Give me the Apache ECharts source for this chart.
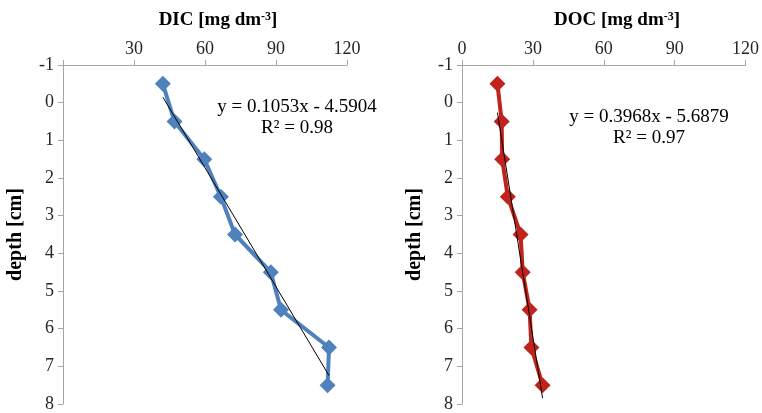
<!DOCTYPE html>
<html>
<head>
<meta charset="utf-8">
<script src="https://cdn.jsdelivr.net/npm/echarts@6/dist/echarts.min.js"></script>
<style>
  html, body { margin: 0; padding: 0; background: #fff; }
  #chart { width: 762px; height: 413px; }
</style>
</head>
<body>
<div id="chart"></div>
<script>
// depth of each sample [cm]
const depths = [-0.5, 0.5, 1.5, 2.5, 3.5, 4.5, 5.5, 6.5, 7.5]
// concentrations [mg dm-3]
const dicValues = [42.2, 47.1, 59.7, 66.7, 72.7, 87.8, 92.1, 112.4, 111.8]
const docValues = [15.0, 16.8, 17.0, 19.4, 24.8, 25.7, 28.6, 29.4, 34.1]
// linear fits shown on the chart: depth = slope * value + intercept
const dicFit = [0.1053, -4.5904]
const docFit = [0.3968, -5.6879]
const dicLabels = ['y = 0.1053x - 4.5904', 'R² = 0.98']
const docLabels = ['y = 0.3968x - 5.6879', 'R² = 0.97']
const xTicks = [0, 30, 60, 90, 120]
const yTicks = [-1, 0, 1, 2, 3, 4, 5, 6, 7, 8]

const FONT = '"Liberation Serif", "Times New Roman", serif'
const AXIS_GREY = '#a6a6a6'

const chart = echarts.init(document.getElementById('chart'))

const points = (vals) => vals.map((v, i) => [v, depths[i]])
const fitLine = (vals, fit) => {
    const lo = Math.min(...vals), hi = Math.max(...vals)
    return [[lo, fit[0] * lo + fit[1]], [hi, fit[0] * hi + fit[1]]]
}

const makeX = (idx, hideZero) => ({
    type: 'value',
    gridIndex: idx,
    position: 'top',
    min: xTicks[0],
    max: xTicks[xTicks.length - 1],
    interval: 30,
    axisLine: { show: true, onZero: false, lineStyle: { color: AXIS_GREY, width: 1 } },
    axisTick: { show: true, inside: false, length: 5, lineStyle: { color: AXIS_GREY } },
    splitLine: { show: false },
    axisLabel: {
        fontFamily: FONT, fontSize: 18, color: '#262626', margin: 7,
        formatter: (v) => (hideZero && v === 0 ? '' : String(v))
    }
})

const makeY = (idx) => ({
    type: 'value',
    gridIndex: idx,
    inverse: true,
    min: yTicks[0],
    max: yTicks[yTicks.length - 1],
    interval: 1,
    name: 'depth [cm]',
    nameLocation: 'middle',
    nameGap: 37,
    nameRotate: 90,
    nameTextStyle: { fontFamily: FONT, fontSize: 20, fontWeight: 'bold', color: '#000' },
    axisLine: { show: true, onZero: false, lineStyle: { color: AXIS_GREY, width: 1 } },
    axisTick: { show: true, inside: false, length: 5, lineStyle: { color: AXIS_GREY } },
    splitLine: { show: false },
    axisLabel: { fontFamily: FONT, fontSize: 18, color: '#262626', margin: 9 }
})

const dataSeries = (idx, vals, color) => ({
    type: 'line',
    xAxisIndex: idx,
    yAxisIndex: idx,
    data: points(vals),
    symbol: 'diamond',
    symbolSize: 16,
    lineStyle: { color: color, width: 4 },
    itemStyle: { color: color },
    z: 2
})

const trendSeries = (idx, vals, fit) => ({
    type: 'line',
    xAxisIndex: idx,
    yAxisIndex: idx,
    data: fitLine(vals, fit),
    symbol: 'none',
    lineStyle: { color: '#000', width: 1 },
    z: 3
})

const titleText = (name) => ({
    text: '{b|' + name + ' [mg dm}{s|-3}{b|]}',
    textStyle: {
        rich: {
            b: { fontFamily: FONT, fontSize: 19, fontWeight: 'bold', color: '#000' },
            s: { fontFamily: FONT, fontSize: 12, fontWeight: 'bold', color: '#000', verticalAlign: 'top', padding: [0, 0, 7, 0] }
        }
    }
})

const eqLine = (x, y, text) => ({
    type: 'text',
    x: x,
    y: y,
    style: {
        text: text,
        fontFamily: FONT,
        fontSize: 19,
        fill: '#000',
        align: 'center',
        verticalAlign: 'middle'
    }
})

chart.setOption({
    animation: false,
    title: [
        Object.assign({ left: 213, top: 6, textAlign: 'center' }, titleText('DIC')),
        Object.assign({ left: 612, top: 6, textAlign: 'center' }, titleText('DOC'))
    ],
    grid: [
        { left: 63, top: 65, width: 284, height: 340 },
        { left: 462, top: 65, width: 285, height: 340 }
    ],
    xAxis: [makeX(0, true), makeX(1, false)],
    yAxis: [makeY(0), makeY(1)],
    series: [
        dataSeries(0, dicValues, '#4F81BD'),
        trendSeries(0, dicValues, dicFit),
        dataSeries(1, docValues, '#C0231B'),
        trendSeries(1, docValues, docFit)
    ],
    graphic: [
        eqLine(297, 107, dicLabels[0]),
        eqLine(297, 128, dicLabels[1]),
        eqLine(649, 117, docLabels[0]),
        eqLine(649, 138, docLabels[1])
    ]
})
</script>
</body>
</html>
